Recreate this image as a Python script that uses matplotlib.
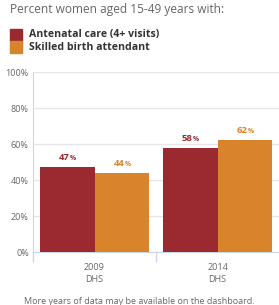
import matplotlib
matplotlib.use("Agg")
import matplotlib.pyplot as plt
import matplotlib.transforms as mtransforms
import numpy as np

categories = ["2009\nDHS", "2014\nDHS"]
series_names = ["Antenatal care (4+ visits)", "Skilled birth attendant"]
antenatal = [47, 58]
skilled = [44, 62]
yticks = [0, 20, 40, 60, 80, 100]
colors = ["#9B2A30", "#D8842A"]

W, H = 279, 305
plt.rcParams['font.family'] = ['Open Sans', 'DejaVu Sans']
fig = plt.figure(figsize=(W / 100, H / 100), dpi=100)

# axes: left 33, right 279, top 72, bottom 252 (pixels)
ax = fig.add_axes([33 / W, 1 - 252 / H, (279 - 33) / W, (252 - 72) / H])
x = np.arange(len(categories))
bw = 0.447
ax.bar(x - bw / 2, antenatal, bw, color=colors[0], zorder=3)
ax.bar(x + bw / 2, skilled, bw, color=colors[1], zorder=3)
ax.set_xlim(-0.5, len(categories) - 0.5)
ax.set_ylim(0, 100)
for s in ["top", "right"]:
    ax.spines[s].set_visible(False)
ax.spines["left"].set_color("#ccd6eb")
ax.spines["bottom"].set_color("#ccd6eb")
ax.set_yticks(yticks)
ax.set_yticklabels([f"{v}%" for v in yticks])
ax.tick_params(axis='y', length=0, pad=3, labelsize=6.5, labelcolor="#666666")
ax.yaxis.grid(True, color="#e6e6e6", linewidth=1, zorder=0)
ax.set_xticks([])

# separator ticks below axis
sep_trans = mtransforms.blended_transform_factory(ax.transData, ax.transAxes)
for xb in [-0.5, 0.5]:
    ax.plot([xb, xb], [0, -0.05], color="#ccd6eb", lw=1, transform=sep_trans, clip_on=False)

for i, c in enumerate(categories):
    ax.text(i, -0.06, c, transform=sep_trans, ha="center", va="top", fontsize=6.5,
            color="#666666", linespacing=1.5)

# value labels
for vals, off, col in [(antenatal, -bw / 2, colors[0]), (skilled, bw / 2, colors[1])]:
    for i, v in enumerate(vals):
        t = mtransforms.offset_copy(ax.transData, fig=fig, x=2.5, y=5, units="dots")
        ax.text(i + off, v, f"{v}", transform=t, ha="right", va="bottom", fontsize=6.8,
                fontweight="bold", color=col)
        ax.text(i + off, v, "%", transform=t, ha="left", va="bottom", fontsize=4.8,
                fontweight="bold", color=col)

# header
fig.text(10 / W, 1 - 10 / H, "Percent women aged 15-49 years with:", fontsize=8.6,
         color="#666666", va="center", ha="left")
for j, (name, col) in enumerate(zip(series_names, colors)):
    yc = 35 + j * 12
    fig.patches.append(plt.Rectangle((10 / W, 1 - (yc + 6) / H), 12 / W, 12 / H,
                                     transform=fig.transFigure, color=col))
    fig.text(29 / W, 1 - yc / H, name, fontsize=7.6, fontweight="bold", color="#333333",
             va="center", ha="left")

fig.text(0.5, 1 - 301 / H, "More years of data may be available on the dashboard.",
         fontsize=6.5, color="#666666", ha="center", va="center")

fig.savefig("out.png", dpi=100)
